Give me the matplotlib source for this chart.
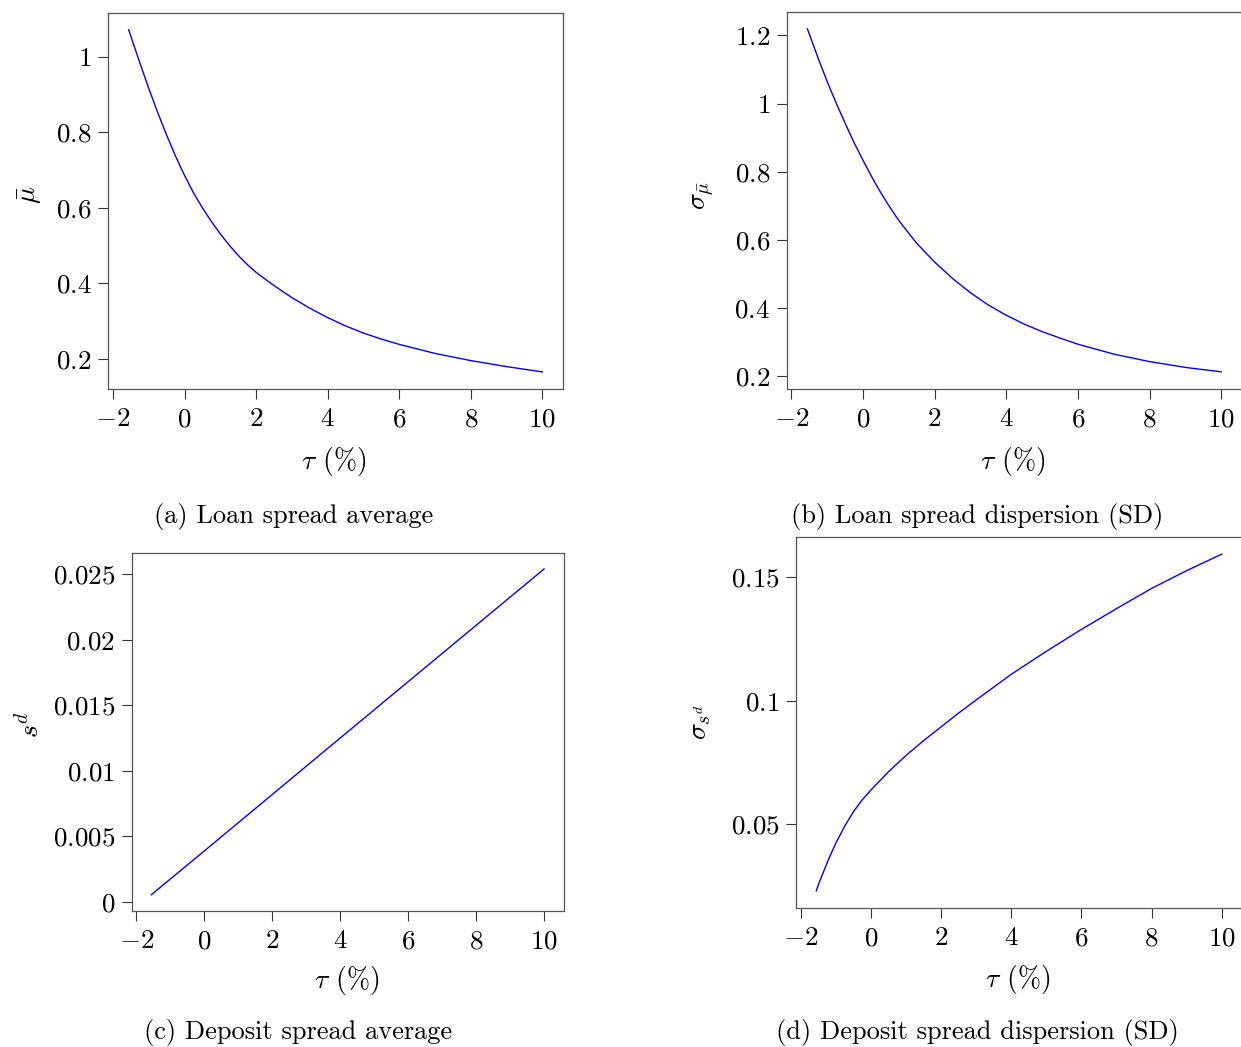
import matplotlib
matplotlib.use("Agg")
import matplotlib.pyplot as plt

plt.rcParams["font.family"] = "serif"
plt.rcParams["font.serif"] = ["cmr10", "DejaVu Serif"]
plt.rcParams["mathtext.fontset"] = "cm"
plt.rcParams["axes.formatter.use_mathtext"] = True
plt.rcParams["font.size"] = 19

# tau grid (%) and values
tau_a = [-1.56, -1.25, -1.0, -0.75, -0.5, -0.25, 0, 0.25, 0.5, 0.75, 1.0, 1.25, 1.5, 1.75,
         2.0, 2.5, 3.0, 3.5, 4.0, 4.5, 5.0, 5.5, 6.0, 7.0, 8.0, 9.0, 10.0]
loan_avg = [1.072, 0.985, 0.917, 0.853, 0.793, 0.737, 0.686, 0.640, 0.600, 0.564, 0.531, 0.501, 0.474, 0.450,
            0.429, 0.394, 0.362, 0.334, 0.309, 0.287, 0.268, 0.252, 0.238, 0.214, 0.195, 0.179, 0.165]

tau_b = [-1.55, -1.25, -1.0, -0.75, -0.5, -0.25, 0, 0.25, 0.5, 0.75, 1.0, 1.5, 2.0,
         2.5, 3.0, 3.5, 4.0, 4.5, 5.0, 5.5, 6.0, 7.0, 8.0, 9.0, 10.0]
loan_sd = [1.219, 1.133, 1.065, 1.002, 0.943, 0.886, 0.834, 0.784, 0.738, 0.696, 0.657, 0.590, 0.535,
           0.487, 0.445, 0.409, 0.379, 0.353, 0.331, 0.312, 0.294, 0.265, 0.243, 0.226, 0.213]

tau_c = [-1.56, 0.0, 2.0, 4.0, 6.0, 8.0, 10.0]
dep_avg = [0.00054, 0.00388, 0.00819, 0.0125, 0.0168, 0.0211, 0.0254]

tau_d = [-1.56, -1.48, -1.4, -1.2, -1.0, -0.75, -0.5, -0.25, 0, 0.5, 1.0, 1.5, 2.0,
         2.5, 3.0, 3.5, 4.0, 5.0, 6.0, 7.0, 8.0, 9.0, 10.0]
dep_sd = [0.0229, 0.0261, 0.0290, 0.0360, 0.0423, 0.0491, 0.0550, 0.0598, 0.0638, 0.0712, 0.0778, 0.0838, 0.0894,
          0.0950, 0.1003, 0.1055, 0.1107, 0.1200, 0.1289, 0.1373, 0.1455, 0.1527, 0.1594]

x_ticks = [-2, 0, 2, 4, 6, 8, 10]
x_ticklabels = ["-2", "0", "2", "4", "6", "8", "10"]

yt_a = [0.2, 0.4, 0.6, 0.8, 1.0]
ytl_a = ["0.2", "0.4", "0.6", "0.8", "1"]
yt_b = [0.2, 0.4, 0.6, 0.8, 1.0, 1.2]
ytl_b = ["0.2", "0.4", "0.6", "0.8", "1", "1.2"]
yt_c = [0, 0.005, 0.01, 0.015, 0.02, 0.025]
ytl_c = ["0", "0.005", "0.01", "0.015", "0.02", "0.025"]
yt_d = [0.05, 0.1, 0.15]
ytl_d = ["0.05", "0.1", "0.15"]

W, H = 1241, 1047
fig = plt.figure(figsize=(W / 100, H / 100), dpi=100)


def px_axes(left, top, right, bottom):
    return fig.add_axes([left / W, 1 - bottom / H, (right - left) / W, (bottom - top) / H])


panels = [
    # axes box (px), x, y, yticks, yticklabels, ylabel, ylabel x-frac, ylabel y-frac, caption, caption pos
    ((108, 12.7, 563, 389), tau_a, loan_avg, yt_a, ytl_a, r"$\bar{\mu}$", -0.171, 0.516,
     "(a) Loan spread average", (294, 516)),
    ((786.7, 11.7, 1242, 389), tau_b, loan_sd, yt_b, ytl_b, r"$\sigma_{\bar{\mu}}$", -0.184, 0.514,
     "(b) Loan spread dispersion (SD)", (977, 516)),
    ((131.7, 552.7, 563.7, 911), tau_c, dep_avg, yt_c, ytl_c, r"$s^d$", -0.235, 0.519,
     "(c) Deposit spread average", (298, 1032)),
    ((796, 537.3, 1242, 907.7), tau_d, dep_sd, yt_d, ytl_d, r"$\sigma_{s^d}$", -0.215, 0.501,
     "(d) Deposit spread dispersion (SD)", (977, 1032)),
]

for box, x, y, yt, ytl, ylab, ylx, yly, cap, cpos in panels:
    ax = px_axes(*box)
    ax.plot(x, y, color="#0000ff", lw=1.0)
    ax.set_xticks(x_ticks)
    ax.set_xticklabels(["$%s$" % s for s in x_ticklabels])
    ax.set_yticks(yt)
    ax.set_yticklabels(["$%s$" % s for s in ytl])
    ax.tick_params(direction="out", length=7, width=0.8, color="#333333", labelsize=19.5)
    ax.tick_params(axis="x", pad=6.5)
    ax.tick_params(axis="y", pad=5)
    for sp in ax.spines.values():
        sp.set_color("#555555")
        sp.set_linewidth(0.9)
    ax.set_xlabel(r"$\tau$ (%)", va="center", fontsize=20)
    ax.xaxis.set_label_coords(0.497, -0.193)
    ax.set_ylabel(ylab, va="center", fontsize=20)
    ax.yaxis.set_label_coords(ylx, yly)
    fig.text(cpos[0] / W, 1 - cpos[1] / H, cap, ha="center", va="center")

fig.savefig("out.png", dpi=100, facecolor="white")
